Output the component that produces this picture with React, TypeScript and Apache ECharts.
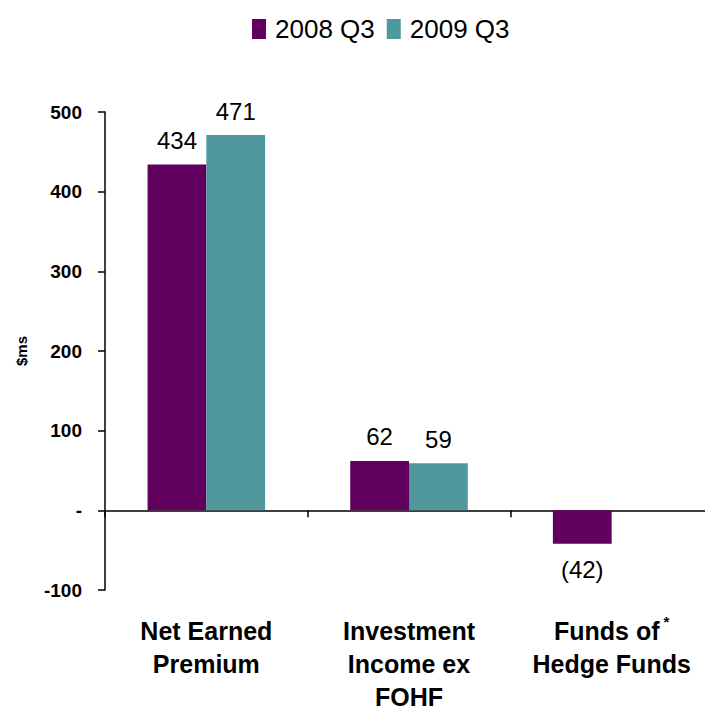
import React, { useEffect, useRef } from "react";
import * as echarts from "echarts";

const categories = ["Net Earned\nPremium", "Investment\nIncome ex\nFOHF", "Funds of{sup|*}\nHedge Funds"];
const seriesNames = ["2008 Q3", "2009 Q3"];
const values2008 = [434, 62, -42];
const values2009: (number | null)[] = [471, 59, null];
const yTicks = { min: -100, max: 500, interval: 100 };
const yAxisTitle = "$ms";

const colors = ["#620060", "#4F989E"];

export default function App() {
  const ref = useRef<HTMLDivElement>(null);
  useEffect(() => {
    document.body.style.margin = "0";
    const chart = echarts.init(ref.current!, null, { renderer: "svg" });
    const fmt = (p: any) => {
      const v = p.value as number;
      if (v == null) return "";
      return v < 0 ? `(${Math.abs(v)})` : `${v}`;
    };
    chart.setOption({
      animation: false,
      textStyle: { fontFamily: "Liberation Sans, Arial, sans-serif" },
      legend: {
        data: seriesNames,
        left: 247,
        top: 11,
        itemWidth: 14,
        itemHeight: 20,
        itemGap: 12,
        icon: "rect",
        textStyle: { fontSize: 26, color: "#000", padding: [0, 0, 0, 4] },
      },
      grid: { left: 105, right: -8, top: 112, bottom: 120, containLabel: false, outerBoundsMode: "none" },
      xAxis: {
        type: "category",
        data: categories,
        axisLine: { onZero: true, lineStyle: { color: "#000", width: 1.5 } },
        axisTick: { show: true, alignWithLabel: false, length: 7, lineStyle: { color: "#000", width: 1.5 } },
        axisLabel: {
          interval: 0,
          margin: 24,
          fontSize: 25,
          fontWeight: "bold",
          color: "#000",
          lineHeight: 33,
          rich: {
            sup: { fontSize: 15, fontWeight: "bold", verticalAlign: "top", padding: [0, 0, 14, 4], color: "#000" },
          },
        },
      },
      yAxis: {
        type: "value",
        min: yTicks.min,
        max: yTicks.max,
        interval: yTicks.interval,
        name: yAxisTitle,
        nameLocation: "middle",
        nameGap: 76,
        nameRotate: 90,
        nameTextStyle: { fontSize: 15, fontWeight: "bold", color: "#000" },
        splitLine: { show: false },
        axisLine: { show: true, lineStyle: { color: "#000", width: 1.5 } },
        axisTick: { show: true, inside: false, length: 7, lineStyle: { color: "#000", width: 1.5 } },
        axisLabel: {
          fontSize: 19,
          fontWeight: "bold",
          color: "#000",
          margin: 23,
          formatter: (v: number) => (v === 0 ? "-" : `${v}`),
        },
      },
      series: [
        {
          name: seriesNames[0],
          type: "bar",
          data: values2008.map((v) =>
            v < 0 ? { value: v, label: { position: "bottom", distance: 14 } } : v
          ),
          barGap: "0%",
          barCategoryGap: "42%",
          itemStyle: { color: colors[0] },
          label: { show: true, position: "top", formatter: fmt, fontSize: 24, color: "#000", distance: 12 },
        },
        {
          name: seriesNames[1],
          type: "bar",
          data: values2009,
          barGap: "0%",
          barCategoryGap: "42%",
          itemStyle: { color: colors[1] },
          label: { show: true, position: "top", formatter: fmt, fontSize: 24, color: "#000", distance: 12 },
        },
      ],
    });
    return () => chart.dispose();
  }, []);
  return <div ref={ref} style={{ position: "absolute", left: 0, top: 0, width: 705, height: 710 }} />;
}
